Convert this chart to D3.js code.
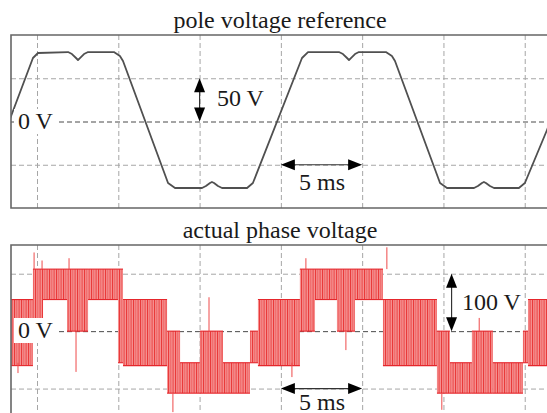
<!DOCTYPE html>
<html>
<head>
<meta charset="utf-8">
<script src="https://cdn.jsdelivr.net/npm/d3@7"></script>
<style>
  body { margin: 0; background: #fff; }
  svg { display: block; }
  text { font-family: "Liberation Serif", "Times New Roman", "DejaVu Serif", serif; fill: #1a1a1a; }
</style>
</head>
<body>
<svg id="chart" width="547" height="413"></svg>
<script>
// time in ms, voltage in V
const gridTimes = [0, 5, 10, 15, 20, 25, 30];
const topGridVolts = [-50, 0, 50];
const botGridVolts = [-200, -100, 0, 100];

// pole voltage reference
const refTime = [-1.72, -0.25, 0.06, 1.91, 2.15, 2.40, 2.52, 2.64, 2.89, 3.14, 4.73, 5.10, 5.29,
  8.06, 8.49, 10.15, 10.39, 10.64, 10.76, 10.89, 11.13, 11.38, 12.92, 13.28,
  16.30, 16.67, 18.57, 18.82, 19.07, 19.19, 19.31, 19.56, 19.80, 21.46, 21.83, 22.02,
  24.79, 25.22, 26.88, 27.12, 27.37, 27.49, 27.61, 27.86, 28.11, 29.64, 30.01, 31.37, 32.2];
const refVolt = [0, 73.4, 79.2, 80.3, 78.0, 73.4, 71.1, 73.4, 78.0, 80.3, 80.3, 75.7, 69.9,
  -71.1, -76.9, -76.9, -74.6, -71.1, -69.9, -71.1, -74.6, -76.9, -76.9, -71.1,
  73.4, 80.3, 80.3, 78.0, 73.4, 71.1, 73.4, 78.0, 80.3, 80.3, 75.7, 69.9,
  -71.1, -76.9, -76.9, -74.6, -71.1, -69.9, -71.1, -74.6, -76.9, -76.9, -71.1, -9.8, 30];

// actual phase voltage: switching bands (between two levels)
const bandStart = [-1.60, -0.25, 0.37, 1.85, 3.14, 4.98, 5.29, 8.00, 8.80, 10.02, 11.44, 13.10,
  13.59, 16.17, 17.10, 18.45, 19.56, 21.28, 24.60, 25.40, 26.75, 28.04, 29.89, 30.20];
const bandEnd = [-0.25, 0.37, 1.85, 3.14, 4.98, 5.29, 8.00, 8.80, 10.02, 11.44, 13.10, 13.59,
  16.17, 17.10, 18.45, 19.56, 21.28, 24.60, 25.40, 26.75, 28.04, 29.89, 30.20, 32.2];
const bandHigh = [55, 108, 108, 108, 108, 108, 55, 0, -55, 0, -55, 0,
  55, 108, 108, 108, 108, 55, 0, -55, 0, -55, 0, 55];
const bandLow = [-60, -5, 55, 0, 55, -55, -60, -108, -108, -108, -108, -55,
  -60, 0, 55, 0, 55, -60, -108, -108, -108, -108, -55, -60];

// isolated spikes
const spikeTime = [-1.17, -0.18, 0.31, 1.97, 2.40, 8.36, 10.58, 15.68, 16.54, 19.0, 21.52, 24.9, 27.2];
const spikeFrom = [-55, 108, 108, 108, 0, -108, 0, -55, 108, 0, 108, -108, 0];
const spikeTo = [-73, 137, 123, 127, -71, -141, 59, -80, 127, -33, 146, -137, 23];

const svg = d3.select("#chart");
const left = 11, right = 620;

const x = d3.scaleLinear().domain([-1.6, 31.37]).range([11, 547]);
const yTop = d3.scaleLinear().domain([-100, 100]).range([208, 35]);
const yBot = d3.scaleLinear().domain([-200, 150]).range([446, 245]);

const defs = svg.append("defs");
const pat = defs.append("pattern").attr("id", "pwm")
  .attr("patternUnits", "userSpaceOnUse").attr("width", 7).attr("height", 6);
pat.append("rect").attr("width", 7).attr("height", 6).attr("fill", "#f59090");
pat.append("rect").attr("x", 0).attr("width", 1.1).attr("height", 6).attr("fill", "#e93a3a");
pat.append("rect").attr("x", 2.4).attr("width", 0.8).attr("height", 6).attr("fill", "#ef5a5a");
pat.append("rect").attr("x", 4.6).attr("width", 1).attr("height", 6).attr("fill", "#eb4646");

defs.append("clipPath").attr("id", "clipTop").append("rect")
  .attr("x", left).attr("y", yTop(100)).attr("width", right - left).attr("height", yTop(-100) - yTop(100));
defs.append("clipPath").attr("id", "clipBot").append("rect")
  .attr("x", left).attr("y", yBot(150)).attr("width", right - left).attr("height", yBot(-200) - yBot(150));

function grid(g, yScale, volts, y0, y1) {
  // vertical grid
  g.append("g")
    .attr("transform", "translate(0," + y0 + ")")
    .call(d3.axisBottom(x).tickValues(gridTimes).tickSize(y1 - y0).tickFormat(""))
    .call(a => a.select(".domain").remove())
    .selectAll("line")
    .attr("stroke", "#a6a6a6").attr("stroke-dasharray", "5,3");
  // horizontal grid
  g.append("g")
    .attr("transform", "translate(" + left + ",0)")
    .call(d3.axisRight(yScale).tickValues(volts).tickSize(right - left).tickFormat(""))
    .call(a => a.select(".domain").remove())
    .selectAll("line")
    .attr("stroke", d => d === 0 ? "#4a4a4a" : "#a6a6a6")
    .attr("stroke-dasharray", "5,3");
}

function frame(yA, yB) {
  svg.append("path")
    .attr("d", "M" + right + "," + yA + "H" + left + "V" + yB + "H" + right)
    .attr("fill", "none").attr("stroke", "#666").attr("stroke-width", 1.6);
}

function arrowV(xp, ya, yb) {
  const g = svg.append("g");
  g.append("line").attr("x1", xp).attr("x2", xp).attr("y1", ya + 6).attr("y2", yb - 6)
    .attr("stroke", "#333").attr("stroke-width", 1.2);
  g.append("path").attr("d", `M${xp},${ya}L${xp - 5.5},${ya + 14}L${xp + 5.5},${ya + 14}Z`).attr("fill", "#000");
  g.append("path").attr("d", `M${xp},${yb}L${xp - 5.5},${yb - 14}L${xp + 5.5},${yb - 14}Z`).attr("fill", "#000");
}

function arrowH(yp, xa, xb) {
  const g = svg.append("g");
  g.append("line").attr("x1", xa + 6).attr("x2", xb - 6).attr("y1", yp).attr("y2", yp)
    .attr("stroke", "#333").attr("stroke-width", 1.2);
  g.append("path").attr("d", `M${xa},${yp}L${xa + 14},${yp - 5.5}L${xa + 14},${yp + 5.5}Z`).attr("fill", "#000");
  g.append("path").attr("d", `M${xb},${yp}L${xb - 14},${yp - 5.5}L${xb - 14},${yp + 5.5}Z`).attr("fill", "#000");
}

function label(txt, xp, yp, boxed) {
  const t = svg.append("text").attr("x", xp).attr("y", yp).attr("font-size", 24).text(txt);
  if (boxed) {
    const b = t.node().getBBox();
    svg.insert("rect", () => t.node())
      .attr("x", b.x - 4).attr("y", b.y + 1).attr("width", b.width + 7).attr("height", b.height - 1)
      .attr("fill", "#fff");
  }
}

// ---------- top panel ----------
grid(svg.append("g"), yTop, topGridVolts, yTop(100), yTop(-100));

const refLine = d3.line().x(d => x(d[0])).y(d => yTop(d[1]));
svg.append("path")
  .datum(refTime.map((t, i) => [t, refVolt[i]]))
  .attr("clip-path", "url(#clipTop)")
  .attr("d", refLine)
  .attr("fill", "none").attr("stroke", "#505050").attr("stroke-width", 1.8)
  .attr("stroke-linejoin", "round");

frame(yTop(100), yTop(-100));

svg.append("text").attr("x", 280).attr("y", 28).attr("text-anchor", "middle")
  .attr("font-size", 24).text("pole voltage reference");

label("0 V", 18, 129, true);
arrowV(x(10), yTop(50), yTop(0));
label("50 V", 217, 106, false);
arrowH(yTop(-50), x(15), x(20));
label("5 ms", 299, 190, false);

// ---------- bottom panel ----------
grid(svg.append("g"), yBot, botGridVolts, yBot(150), yBot(-200));

const trace = svg.append("g").attr("clip-path", "url(#clipBot)");
const bands = bandStart.map((s, i) => ({ s: s, e: bandEnd[i], hi: bandHigh[i], lo: bandLow[i] }));

trace.selectAll("rect.band").data(bands).join("rect")
  .attr("class", "band")
  .attr("x", d => x(d.s)).attr("width", d => x(d.e) - x(d.s))
  .attr("y", d => yBot(d.hi)).attr("height", d => yBot(d.lo) - yBot(d.hi))
  .attr("fill", "url(#pwm)");

trace.selectAll("line.hi").data(bands).join("line")
  .attr("class", "hi")
  .attr("x1", d => x(d.s)).attr("x2", d => x(d.e))
  .attr("y1", d => yBot(d.hi)).attr("y2", d => yBot(d.hi))
  .attr("stroke", "#e5262c").attr("stroke-width", 1.1);
trace.selectAll("line.lo").data(bands).join("line")
  .attr("class", "lo")
  .attr("x1", d => x(d.s)).attr("x2", d => x(d.e))
  .attr("y1", d => yBot(d.lo)).attr("y2", d => yBot(d.lo))
  .attr("stroke", "#e5262c").attr("stroke-width", 1.1);

trace.selectAll("line.spike").data(spikeTime).join("line")
  .attr("class", "spike")
  .attr("x1", d => x(d)).attr("x2", d => x(d))
  .attr("y1", (d, i) => yBot(spikeFrom[i])).attr("y2", (d, i) => yBot(spikeTo[i]))
  .attr("stroke", "#ee4a4a").attr("stroke-width", 1);

frame(yBot(150), yBot(-200));

svg.append("text").attr("x", 280).attr("y", 238).attr("text-anchor", "middle")
  .attr("font-size", 24).text("actual phase voltage");

label("0 V", 18, 338, true);
arrowV(x(25.5), yBot(100), yBot(0));
label("100 V", 462, 310, false);
arrowH(yBot(-100), x(15), x(20));
label("5 ms", 299, 410, false);
</script>
</body>
</html>
